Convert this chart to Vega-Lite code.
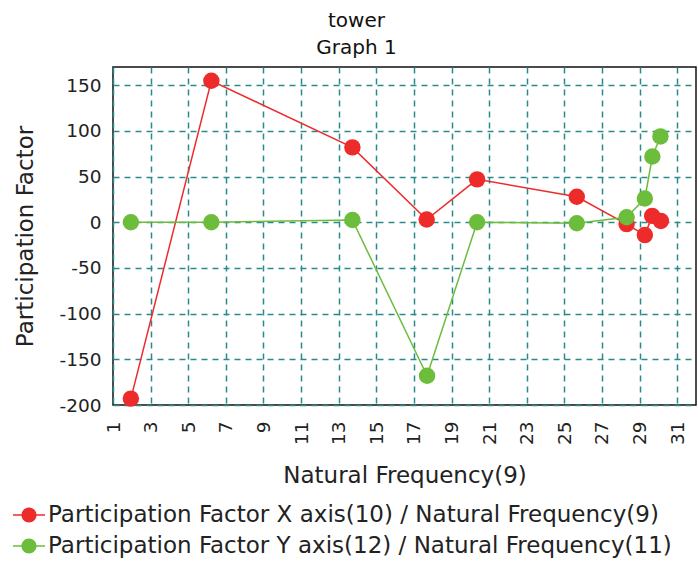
{
  "$schema": "https://vega.github.io/schema/vega-lite/v6.json",
  "width": 583,
  "height": 338,
  "autosize": {"type": "none"},
  "padding": {"left": 113, "top": 67, "right": 2, "bottom": 157},
  "background": "white",
  "title": {
    "text": ["tower", "Graph 1"],
    "font": "DejaVu Sans",
    "fontSize": 20,
    "fontWeight": "normal",
    "color": "#111",
    "anchor": "middle",
    "lineHeight": 27,
    "offset": 9,
    "dx": -48
  },
  "config": {
    "view": {"stroke": "#111", "strokeWidth": 1.5},
    "axis": {
      "labelFont": "DejaVu Sans",
      "labelFontSize": 18.5,
      "labelColor": "#222",
      "titleFont": "DejaVu Sans",
      "titleFontSize": 23,
      "titleFontWeight": "normal",
      "titleColor": "#222",
      "domain": false,
      "ticks": false,
      "grid": true,
      "gridColor": "#2a8a8a",
      "gridDash": [6, 5],
      "gridWidth": 1.5,
      "gridOpacity": 1
    },
    "legend": {
      "labelFont": "DejaVu Sans",
      "labelFontSize": 23,
      "labelColor": "#222",
      "labelLimit": 800
    }
  },
  "data": {
    "values": [
      {"series": "Participation Factor X axis(10) / Natural Frequency(9)", "freq": 1.95, "pf": -193},
      {"series": "Participation Factor X axis(10) / Natural Frequency(9)", "freq": 6.23, "pf": 155},
      {"series": "Participation Factor X axis(10) / Natural Frequency(9)", "freq": 13.73, "pf": 82},
      {"series": "Participation Factor X axis(10) / Natural Frequency(9)", "freq": 17.68, "pf": 3},
      {"series": "Participation Factor X axis(10) / Natural Frequency(9)", "freq": 20.36, "pf": 47},
      {"series": "Participation Factor X axis(10) / Natural Frequency(9)", "freq": 25.66, "pf": 28},
      {"series": "Participation Factor X axis(10) / Natural Frequency(9)", "freq": 28.31, "pf": -2},
      {"series": "Participation Factor X axis(10) / Natural Frequency(9)", "freq": 29.28, "pf": -14},
      {"series": "Participation Factor X axis(10) / Natural Frequency(9)", "freq": 29.67, "pf": 7},
      {"series": "Participation Factor X axis(10) / Natural Frequency(9)", "freq": 30.13, "pf": 1.5},
      {"series": "Participation Factor Y axis(12) / Natural Frequency(11)", "freq": 1.95, "pf": 0},
      {"series": "Participation Factor Y axis(12) / Natural Frequency(11)", "freq": 6.23, "pf": 0},
      {"series": "Participation Factor Y axis(12) / Natural Frequency(11)", "freq": 13.73, "pf": 2.5},
      {"series": "Participation Factor Y axis(12) / Natural Frequency(11)", "freq": 17.7, "pf": -168},
      {"series": "Participation Factor Y axis(12) / Natural Frequency(11)", "freq": 20.36, "pf": 0},
      {"series": "Participation Factor Y axis(12) / Natural Frequency(11)", "freq": 25.66, "pf": -1},
      {"series": "Participation Factor Y axis(12) / Natural Frequency(11)", "freq": 28.31, "pf": 5.5},
      {"series": "Participation Factor Y axis(12) / Natural Frequency(11)", "freq": 29.28, "pf": 26},
      {"series": "Participation Factor Y axis(12) / Natural Frequency(11)", "freq": 29.68, "pf": 72},
      {"series": "Participation Factor Y axis(12) / Natural Frequency(11)", "freq": 30.11, "pf": 94}
    ]
  },
  "encoding": {
    "x": {
      "field": "freq",
      "type": "quantitative",
      "scale": {"domain": [1, 32], "nice": false, "zero": false},
      "axis": {
        "title": "Natural Frequency(9)",
        "values": [1, 3, 5, 7, 9, 11, 13, 15, 17, 19, 21, 23, 25, 27, 29, 31],
        "labelAngle": 270,
        "labelPadding": 16,
        "titlePadding": 20,
        "labelFlush": false,
        "labelOverlap": false
      }
    },
    "y": {
      "field": "pf",
      "type": "quantitative",
      "scale": {"domain": [-200, 170], "nice": false, "zero": false},
      "axis": {
        "title": "Participation Factor",
        "values": [-200, -150, -100, -50, 0, 50, 100, 150],
        "labelExpr": "'' + datum.value",
        "labelPadding": 12,
        "titlePadding": 22,
        "labelFlush": false,
        "labelOverlap": false
      }
    },
    "color": {
      "field": "series",
      "type": "nominal",
      "scale": {
        "domain": ["Participation Factor X axis(10) / Natural Frequency(9)", "Participation Factor Y axis(12) / Natural Frequency(11)"],
        "range": ["#ee2b2b", "#6cbd3c"]
      },
      "legend": {
        "title": null,
        "orient": "none",
        "legendX": -100,
        "legendY": 432,
        "symbolType": "M-1,-0.05 L1,-0.05 L1,0.05 L-1,0.05 Z M-0.47,0 A0.47,0.47 0 1,1 0.47,0 A0.47,0.47 0 1,1 -0.47,0 Z",
        "symbolSize": 1024,
        "symbolStrokeWidth": 0,
        "symbolOpacity": 1,
        "rowPadding": 3,
        "labelOffset": 3
      }
    }
  },
  "layer": [
    {"mark": {"type": "line", "strokeWidth": 1.5}},
    {"mark": {"type": "point", "filled": true, "size": 270, "opacity": 1}}
  ]
}
